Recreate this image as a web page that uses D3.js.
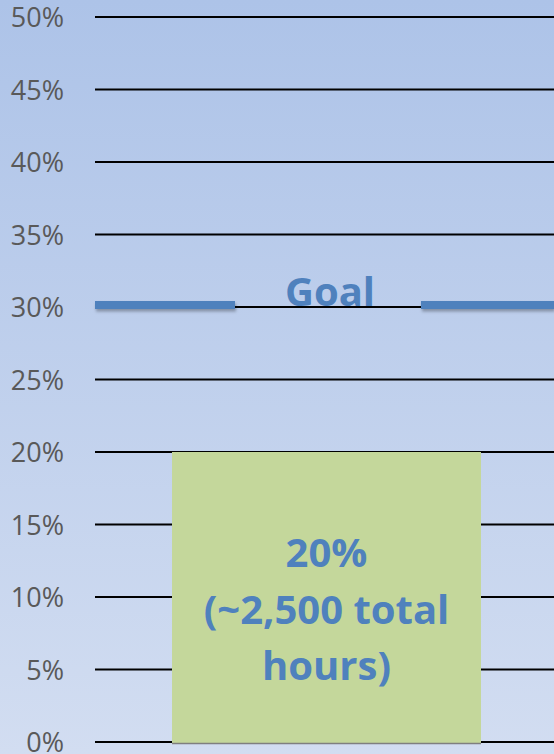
<!DOCTYPE html>
<html><head><meta charset="utf-8">
<script src="https://cdn.jsdelivr.net/npm/d3@7"></script>
<style>html,body{margin:0;padding:0;overflow:hidden;}svg{display:block;}</style>
</head><body>
<div id="chart"></div>
<script>
const categories = ["Current"];
const values = [0.20];
const goalValue = 0.3014;
const tickValues = [0, 0.05, 0.10, 0.15, 0.20, 0.25, 0.30, 0.35, 0.40, 0.45, 0.50];
const barLabelLines = ["20%", "(~2,500 total", "hours)"];
const goalLabel = "Goal";

const W = 554, H = 754;
const svg = d3.select("#chart").append("svg").attr("width", W).attr("height", H);
const defs = svg.append("defs");
const grad = defs.append("linearGradient").attr("id","bg").attr("x1",0).attr("y1",0).attr("x2",0).attr("y2",1);
grad.append("stop").attr("offset","0%").attr("stop-color","#adc3e8");
grad.append("stop").attr("offset","100%").attr("stop-color","#d2ddf1");
const sh = defs.append("filter").attr("id","shadow").attr("filterUnits","userSpaceOnUse")
  .attr("x",0).attr("y",0).attr("width",W).attr("height",H);
sh.append("feDropShadow").attr("dx",1).attr("dy",2.5).attr("stdDeviation",1.5).attr("flood-color","#000").attr("flood-opacity",0.3);
svg.append("rect").attr("width",W).attr("height",H).attr("fill","url(#bg)");

const plotLeft = 95, plotRight = 554;
const y = d3.scaleLinear().domain([0, 0.5]).range([742, 17]);

// gridlines
svg.append("g").selectAll("line").data(tickValues).join("line")
  .attr("x1", plotLeft).attr("x2", plotRight)
  .attr("y1", d => y(d)).attr("y2", d => y(d))
  .attr("stroke", "#000").attr("stroke-width", 2);

// y axis labels
const yAxis = d3.axisLeft(y).tickValues(tickValues).tickFormat(d3.format(".0%")).tickSize(0).tickPadding(0);
const ag = svg.append("g").attr("transform", `translate(64,0)`).call(yAxis);
ag.select(".domain").remove();
ag.selectAll("text").attr("font-family","'Open Sans', 'Noto Sans', sans-serif").attr("font-size", 27)
  .attr("fill","#595959").attr("dy","0.36em");

// bar
const barX0 = 172, barX1 = 481;
const xb = d3.scaleBand().domain(categories).range([barX0, barX1]);
svg.append("g").selectAll("rect").data(values).join("rect")
  .attr("x", (d,i) => xb(categories[i])).attr("width", xb.bandwidth())
  .attr("y", d => y(d)).attr("height", d => y(0) - y(d) + 1)
  .attr("fill", "#c4d79b");
svg.append("line").attr("x1", barX0).attr("x2", barX1).attr("y1", y(0)+1.5).attr("y2", y(0)+1.5)
  .attr("stroke","#7f7f7f").attr("stroke-width",1.5);

// bar label
const cx = (barX0 + barX1) / 2;
const lbl = svg.append("text").attr("text-anchor","middle")
  .attr("font-family","'Open Sans', 'Noto Sans', sans-serif").attr("font-weight","bold")
  .attr("font-size", 40).attr("fill","#4f81bd");
barLabelLines.forEach((t, i) => {
  lbl.append("tspan").attr("x", cx).attr("y", 567 + i * 56.5).text(t);
});

// goal line
const gy = y(goalValue);
const goalSegs = [[plotLeft, 235], [421, plotRight]];
svg.append("g").attr("filter","url(#shadow)").selectAll("line").data(goalSegs).join("line")
  .attr("x1", d => d[0]).attr("x2", d => d[1]).attr("y1", gy).attr("y2", gy)
  .attr("stroke", "#4f81bd").attr("stroke-width", 8);
svg.append("text").attr("x", 330).attr("y", 306).attr("text-anchor","middle")
  .attr("font-family","'Open Sans', 'Noto Sans', sans-serif").attr("font-weight","bold")
  .attr("font-size", 40).attr("fill","#4f81bd").text(goalLabel);
</script>
</body></html>
